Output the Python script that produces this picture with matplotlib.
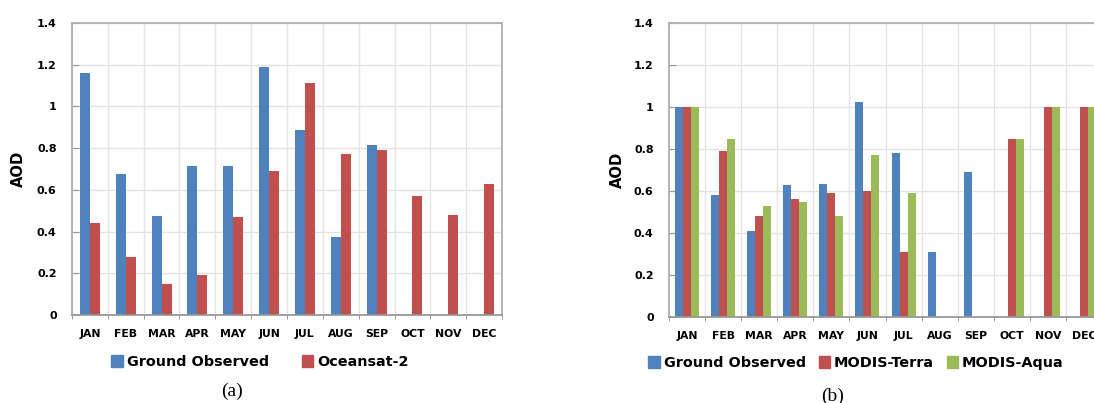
import numpy as np
import matplotlib.pyplot as plt
from matplotlib.patches import Patch

months = ['JAN', 'FEB', 'MAR', 'APR', 'MAY', 'JUN', 'JUL', 'AUG', 'SEP', 'OCT', 'NOV', 'DEC']
yticks = [0, 0.2, 0.4, 0.6, 0.8, 1.0, 1.2, 1.4]
ytick_labels = ['0', '0.2', '0.4', '0.6', '0.8', '1', '1.2', '1.4']
nan = np.nan

# panel (a)
ground_a = [1.16, 0.675, 0.475, 0.715, 0.715, 1.19, 0.885, 0.375, 0.815, nan, nan, nan]
oceansat = [0.44, 0.28, 0.15, 0.19, 0.47, 0.69, 1.11, 0.77, 0.79, 0.57, 0.48, 0.63]

# panel (b)
ground_b = [1.0, 0.58, 0.41, 0.63, 0.635, 1.025, 0.78, 0.31, 0.69, nan, nan, nan]
terra = [1.0, 0.79, 0.48, 0.56, 0.59, 0.60, 0.31, nan, nan, 0.85, 1.0, 1.0]
aqua = [1.0, 0.85, 0.53, 0.55, 0.48, 0.77, 0.59, nan, nan, 0.85, 1.0, 1.0]

BLUE = '#4F81BD'
RED = '#C0504D'
GREEN = '#9BBB59'
W, H = 1094, 403

plt.rcParams['font.family'] = ['DejaVu Sans']

fig = plt.figure(figsize=(W / 100, H / 100), dpi=100)


def style_axes(ax, label_x):
    ax.set_xlim(-0.5, 11.5)
    ax.set_ylim(0, 1.4)
    ax.set_yticks(yticks)
    ax.set_yticklabels(ytick_labels, fontsize=8, fontweight='bold')
    ax.set_xticks(np.arange(12))
    ax.set_xticklabels(months, fontsize=7.8, fontweight='bold')
    ax.set_xticks(np.arange(-0.5, 12, 1), minor=True)
    ax.tick_params(axis='x', which='major', length=0, pad=10)
    ax.tick_params(axis='x', which='minor', length=3, direction='out', color='#888888')
    ax.tick_params(axis='y', length=5, direction='in', color='#999999', pad=11)
    ax.grid(True, axis='y', color='#e3e3e3', linewidth=1)
    ax.grid(True, axis='x', which='minor', color='#e3e3e3', linewidth=1)
    ax.set_axisbelow(True)
    for s in ['top', 'right', 'left']:
        ax.spines[s].set_color('#b0b0b0')
        ax.spines[s].set_linewidth(1.3)
    ax.spines['bottom'].set_color('#999999')
    ax.spines['bottom'].set_linewidth(1.3)
    ax.set_ylabel('AOD', fontsize=10.6, fontweight='bold')
    ax.yaxis.set_label_coords(label_x, 0.5)


x = np.arange(12)

# ---- (a)
ax1 = fig.add_axes([72 / W, 1 - 315 / H, 430 / W, 292 / H])
bw = 0.28
ax1.bar(x - bw / 2, ground_a, bw, color=BLUE)
ax1.bar(x + bw / 2, oceansat, bw, color=RED)
style_axes(ax1, -0.107)

h_a = [Patch(color=BLUE), Patch(color=RED)]
fig.legend(h_a, ['Ground Observed', 'Oceansat-2'], loc='center', ncol=2,
           bbox_to_anchor=(260 / W, 1 - 362 / H), frameon=False,
           prop={'size': 10.4, 'weight': 'bold'}, handlelength=0.8, handleheight=0.8,
           handletextpad=0.25, columnspacing=2.3, borderpad=0)
fig.text(232 / W, 1 - 391 / H, '(a)', ha='center', va='center', fontsize=14,
         family='Liberation Serif')

# ---- (b)
ax2 = fig.add_axes([669 / W, 1 - 317 / H, 433 / W, 294 / H])
bw = 0.222
ax2.bar(x - bw, ground_b, bw, color=BLUE)
ax2.bar(x, terra, bw, color=RED)
ax2.bar(x + bw, aqua, bw, color=GREEN)
style_axes(ax2, -0.102)

h_b = [Patch(color=BLUE), Patch(color=RED), Patch(color=GREEN)]
fig.legend(h_b, ['Ground Observed', 'MODIS-Terra', 'MODIS-Aqua'], loc='center', ncol=3,
           bbox_to_anchor=(856 / W, 1 - 363 / H), frameon=False,
           prop={'size': 10.4, 'weight': 'bold'}, handlelength=0.8, handleheight=0.8,
           handletextpad=0.25, columnspacing=0.9, borderpad=0)
fig.text(833 / W, 1 - 396 / H, '(b)', ha='center', va='center', fontsize=14,
         family='Liberation Serif')

fig.savefig('out.png', dpi=100)
